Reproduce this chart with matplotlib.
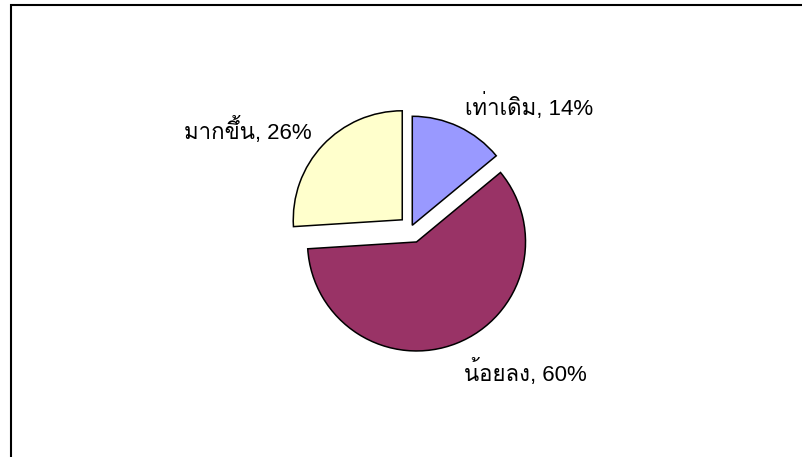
import matplotlib
matplotlib.use("Agg")
import matplotlib.pyplot as plt
from matplotlib import font_manager
from matplotlib.ft2font import FT2Font

# Survey data: share of answers per category
categories = ["เท่าเดิม", "น้อยลง", "มากขึ้น"]
shares = [14, 60, 26]
colors = ["#9999FF", "#993366", "#FFFFCC"]


def find_thai_family():
    preferred = []
    others = []
    for f in font_manager.fontManager.ttflist:
        try:
            cmap = FT2Font(f.fname).get_charmap()
        except Exception:
            continue
        if 0x0E01 in cmap and 0x0E40 in cmap:
            name = f.name
            if "sans" in name.lower() or "loma" in name.lower() or "garuda" in name.lower():
                preferred.append(name)
            else:
                others.append(name)
    found = preferred + others
    return found[0] if found else "DejaVu Sans"


thai_family = find_thai_family()
families = ["Liberation Sans", thai_family, "DejaVu Sans"]

W, H = 802, 457
fig = plt.figure(figsize=(W / 100, H / 100), dpi=100)
ax = fig.add_axes([0, 0, 1, 1])

# frame of the chart area (left and top edges)
ax.plot([11, 11, W + 5], [-5, H - 5, H - 5], color="black", lw=1.5,
        solid_joinstyle="miter", clip_on=False)

cx, cy, r = 411, H - 228, 109
gaps = [3, 15, 12]  # explode offsets per slice, data units (pixels)
ax.pie(shares, colors=colors, startangle=90, counterclock=False,
       explode=gaps, center=(cx, cy), radius=r,
       wedgeprops=dict(edgecolor="black", linewidth=1.1), frame=True)
ax.set_xlim(0, W)
ax.set_ylim(0, H)
ax.set_aspect("equal")
ax.axis("off")

label_pos = [(529, H - 107), (525, H - 372), (248, H - 130)]
for name, val, (lx, ly) in zip(categories, shares, label_pos):
    ax.text(lx, ly, f"{name}, {val}%", ha="center", va="center",
            fontsize=16, family=families, color="black")

fig.savefig("out.png", dpi=100)
